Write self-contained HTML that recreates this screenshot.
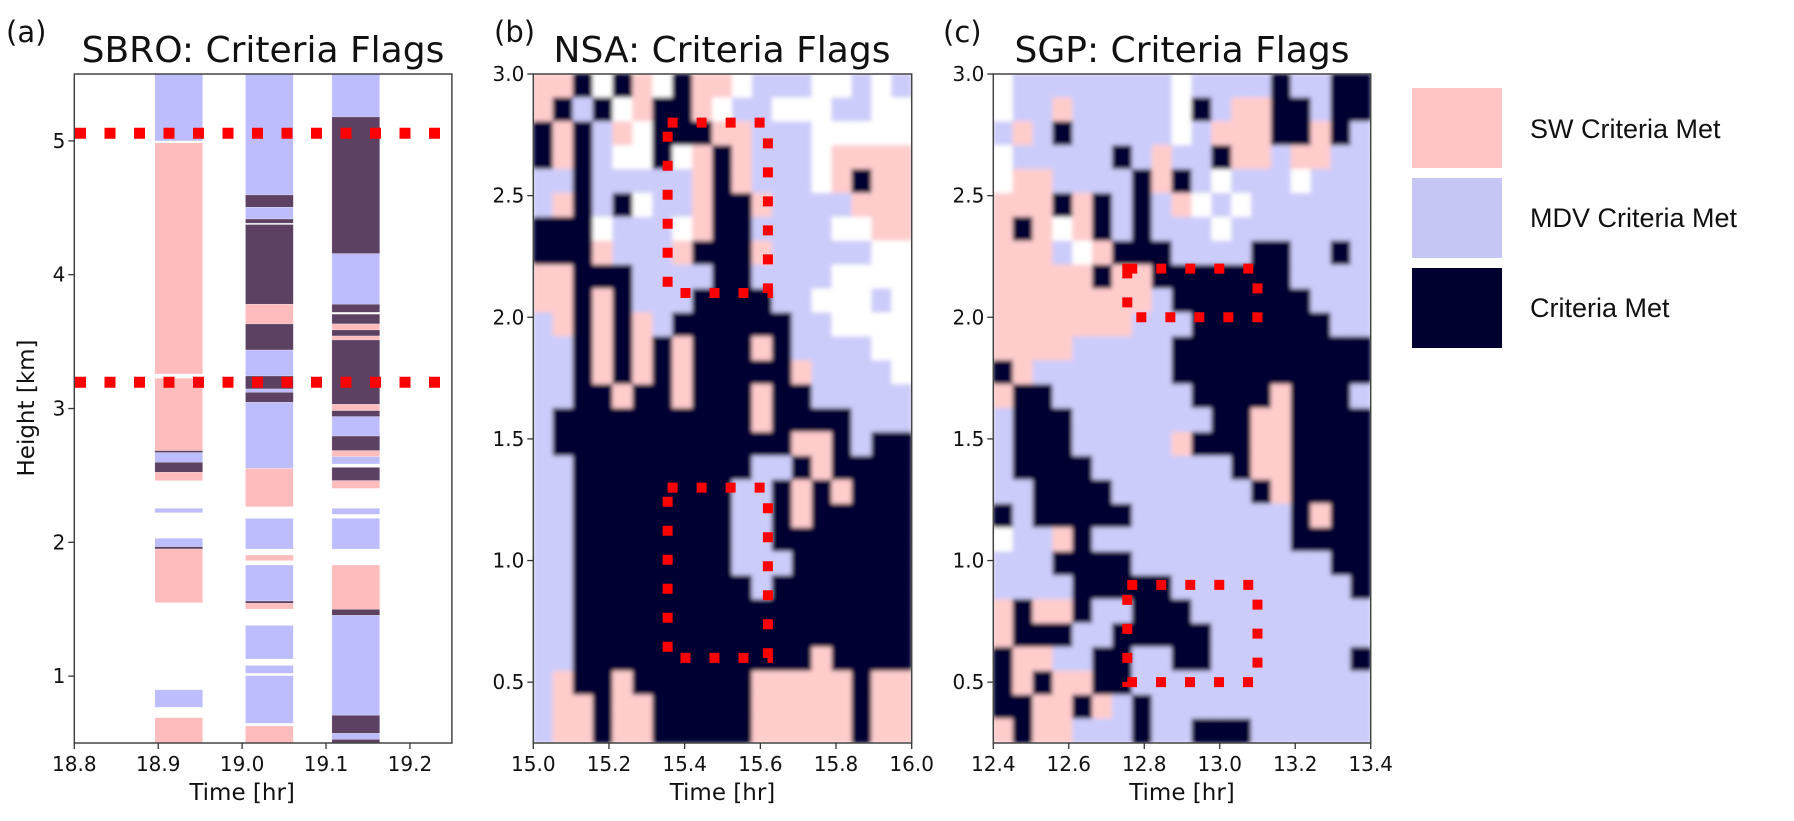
<!DOCTYPE html>
<html><head><meta charset="utf-8">
<style>
html,body{margin:0;padding:0;background:#fff;}
svg{display:block;font-family:"DejaVu Sans","Liberation Sans",sans-serif;}
</style></head>
<body>
<svg id="fig" width="1794" height="821" viewBox="0 0 1794 821" xmlns="http://www.w3.org/2000/svg">
<defs>
<filter id="soft" x="0" y="0" width="1" height="1"><feGaussianBlur stdDeviation="2.2"/></filter>
<clipPath id="clipB"><rect x="533.3" y="74" width="378.4" height="669"/></clipPath>
<clipPath id="clipC"><rect x="993.3" y="74" width="377.4" height="669"/></clipPath>
</defs>
<g id="gA"></g>
<g id="gB"></g>
<g id="gC"></g>
<g id="legend">
<rect x="1412" y="88" width="90" height="80" fill="#ffc4c4"/>
<text x="1530" y="138" font-family="Liberation Sans, sans-serif" font-size="27" fill="#111">SW Criteria Met</text>
<rect x="1412" y="178" width="90" height="80" fill="#c6c6f6"/>
<text x="1530" y="227" font-family="Liberation Sans, sans-serif" font-size="27" fill="#111">MDV Criteria Met</text>
<rect x="1412" y="268" width="90" height="80" fill="#000030"/>
<text x="1530" y="317" font-family="Liberation Sans, sans-serif" font-size="27" fill="#111">Criteria Met</text>
</g>
</svg>
<script>
// ---------- Panel (a) data ----------
const aTicksX = [18.8, 18.9, 19.0, 19.1, 19.2];
const aTickLabelsX = ["18.8", "18.9", "19.0", "19.1", "19.2"];
const aTicksY = [1, 2, 3, 4, 5];
const aColStart = [18.896, 19.004, 19.107];
const aColEnd = [18.953, 19.061, 19.164];
// segments: [column, topKm, bottomKm, category]
const aSegments = [
 [0,5.5,5.0,"L"],[0,4.985,3.258,"P"],[0,3.226,2.685,"P"],[0,2.685,2.67,"N"],[0,2.67,2.598,"L"],[0,2.598,2.523,"N"],[0,2.523,2.461,"P"],
 [0,2.254,2.221,"L"],[0,2.03,1.967,"L"],[0,1.967,1.95,"N"],[0,1.95,1.549,"P"],[0,0.898,0.767,"L"],[0,0.689,0.5,"P"],
 [1,5.5,4.596,"L"],[1,4.596,4.504,"N"],[1,4.504,4.416,"L"],[1,4.416,4.385,"N"],[1,4.375,3.779,"N"],[1,3.779,3.632,"P"],[1,3.632,3.437,"N"],
 [1,3.437,3.243,"L"],[1,3.243,3.146,"N"],[1,3.146,3.121,"L"],[1,3.121,3.046,"N"],[1,3.046,2.552,"L"],[1,2.552,2.266,"P"],[1,2.179,1.95,"L"],
 [1,1.905,1.863,"P"],[1,1.83,1.561,"L"],[1,1.561,1.544,"N"],[1,1.544,1.501,"P"],[1,1.379,1.128,"L"],[1,1.08,1.021,"L"],[1,1.003,0.647,"L"],[1,0.627,0.5,"P"],
 [2,5.5,5.179,"L"],[2,5.179,4.157,"N"],[2,4.157,3.779,"L"],[2,3.779,3.719,"N"],[2,3.705,3.632,"N"],[2,3.632,3.587,"P"],[2,3.587,3.542,"N"],
 [2,3.542,3.512,"P"],[2,3.512,3.031,"N"],[2,3.031,2.984,"P"],[2,2.984,2.939,"N"],[2,2.939,2.794,"L"],[2,2.794,2.685,"N"],[2,2.685,2.64,"P"],
 [2,2.64,2.585,"L"],[2,2.56,2.461,"N"],[2,2.461,2.403,"P"],[2,2.254,2.209,"L"],[2,2.179,1.95,"L"],[2,1.83,1.499,"P"],[2,1.499,1.454,"N"],
 [2,1.454,0.707,"L"],[2,0.707,0.572,"N"],[2,0.572,0.527,"L"],[2,0.527,0.5,"N"]
];
const aRedLines = [5.057, 3.196];

// ---------- Panel (b) data ----------
const bTicksX = [15.0, 15.2, 15.4, 15.6, 15.8, 16.0];
const bTickLabelsX = ["15.0", "15.2", "15.4", "15.6", "15.8", "16.0"];
const bcTicksY = [0.5, 1.0, 1.5, 2.0, 2.5, 3.0];
const bcTickLabelsY = ["0.5", "1.0", "1.5", "2.0", "2.5", "3.0"];
const bGrid = [
"PPNWNPWNPPWLLLWWLWL",
"PNLNWPNNPWLLWWWLLWW",
"NPNLPWNNNPPLLLWWWWW",
"NPNLWWNWPNPLLLWPPPP",
"LLNLLLLLPNPLLLWPNPP",
"LPNLNWLLPNNPLLLLPPP",
"NNNWLLLWPNNLLLLWWPP",
"NNNPLLLPNNNPLLLLLWW",
"PPNNNLLLLNNLLLLWWWW",
"PPNPNLLLNNNNLLWWWLW",
"LPNPNPLNNNNNNLLWWWW",
"LLNPNPNPNNNPNLLLLWW",
"LLNPNPNPNNNNNPLLLLW",
"LLNNPNNPNNNPNNLLLLL",
"LNNNNNNNNNNPNNNNLLL",
"LNNNNNNNNNNNNPPNLNN",
"LLNNNNNNNNNLLNPNNNN",
"LLNNNNNNNNLLNPNPNNN",
"LLNNNNNNNNLLNPNNNNN",
"LLNNNNNNNNLLNNNNNNN",
"LLNNNNNNNNLLLNNNNNN",
"LLNNNNNNNNNLNNNNNNN",
"LLNNNNNNNNNNNNNNNNN",
"LLNNNNNNNNNNNNNNNNN",
"LLNNNNNNNNNNNNPNNNN",
"LPNNPNNNNNNPPPPPNPP",
"LPPNPPNNNNNPPPPPNPP",
"LPPNPPNNNNNPPPPPNPP"
];
const bBoxes = [[15.355, 15.62, 2.8, 2.1], [15.355, 15.62, 1.3, 0.6]];

// ---------- Panel (c) data ----------
const cTicksX = [12.4, 12.6, 12.8, 13.0, 13.2, 13.4];
const cTickLabelsX = ["12.4", "12.6", "12.8", "13.0", "13.2", "13.4"];
const cGrid = [
"WLLLLLLLLWLLLLNLLNN",
"WLLPLLLLLWNLPPNNLNN",
"LPLNLLLLLWLPPPNNPNL",
"WLLLLLNLPLLNPPLPPLL",
"WPPLLLLNPNLWLLLWLLL",
"PPPNPNLNLPWLWLLLLLL",
"PNPWPNLNLLLWLLLLLLL",
"PPPLWPNNNLLLLNNLLNL",
"PPPPPNPPNNNNNNNLLLL",
"PPPPPPPPLNNNNNNNLLL",
"PPPPPPPLLLNNNNNNNLL",
"PPPPLLLLLNNNNNNNNNN",
"NPLLLLLLLNNNNNNNNNN",
"PNNLLLLLLLNNNNPNNNL",
"LNNNLLLLLLLNNPPNNNN",
"LNNNLLLLLPNNNPPNNNN",
"LNNNNLLLLLLLNPPNNNN",
"LLNNNNLLLLLLLNPNNNN",
"NLNNNNNLLLLLLLLNPNN",
"WLLPNLLLLLLLLLLNNNN",
"LLLNNNNLLLLLLLLLLNN",
"LLLLNNNNNLLLLLLLLLN",
"PNPPNLLNNNLLLLLLLLL",
"PNNNLLNNNNNLLLLLLLL",
"NPPLLNNLLNNLLLLLLLN",
"NPNPPNNLLLLLLLLLLLL",
"NNPPNPLNLLLLLLLLLLL",
"PNPPLLLNLLNNNLLLLLL"
];
const cBoxes = [[12.755, 13.1, 2.2, 2.0], [12.755, 13.1, 0.9, 0.5]];

// ---------- helpers ----------
const NS = "http://www.w3.org/2000/svg";
function mk(tag, attrs, parent){ const e=document.createElementNS(NS,tag); for(const k in attrs) e.setAttribute(k,attrs[k]); if(parent) parent.appendChild(e); return e; }
const colA = {P:"#ffbcbc", L:"#bdbdfd", N:"#5c4163", W:"#ffffff"};
const colBC = {P:"#ffcccc", L:"#ccccfa", N:"#000030", W:"#ffffff"};
const TOP=74, BOT=743;

function axisScaleX(t0,t1,px0,px1){ return t=>px0+(t-t0)*(px1-px0)/(t1-t0); }
function axisScaleY(k0,k1){ return k=>BOT-(k-k0)*(BOT-TOP)/(k1-k0); }

function drawFrame(g, x0, x1, name){
  const r = mk("rect",{x:x0,y:TOP,width:x1-x0,height:BOT-TOP,fill:"none",stroke:"#444","stroke-width":1.5},g);
  
  
}
function drawXTicks(g, ticks, labels, sx, name){
  ticks.forEach((t,i)=>{
    const x=sx(t);
    const l=mk("line",{x1:x,x2:x,y1:BOT,y2:BOT+6,stroke:"#333","stroke-width":1.3},g);
    
    
    const tx=mk("text",{x:x,y:BOT+28,"text-anchor":"middle","font-size":20,fill:"#111"},g);
    tx.textContent=labels[i];
    
    
  });
  const xt=mk("text",{x:(sx(ticks[0])+sx(ticks[ticks.length-1]))/2,y:BOT+57,"text-anchor":"middle","font-size":23,fill:"#111"},g);
  xt.textContent="Time [hr]";
  
  
}
function drawYTicks(g, ticks, labels, sy, x0, name){
  ticks.forEach((k,i)=>{
    const y=sy(k);
    const l=mk("line",{x1:x0-6,x2:x0,y1:y,y2:y,stroke:"#333","stroke-width":1.3},g);
    
    
    const tx=mk("text",{x:x0-9,y:y+7,"text-anchor":"end","font-size":20,fill:"#111"},g);
    tx.textContent=labels[i];
    
    
  });
}
function drawTitle(g, cx, letter, title, name){
  const t=mk("text",{x:cx,y:62,"text-anchor":"middle","font-size":36,fill:"#111"},g);
  t.textContent=title;
  
  
  return t;
}
function drawLetter(g, x, letter, name){
  const t=mk("text",{x:x,y:42,"font-size":29,fill:"#111"},g);
  t.textContent=letter;
  
  
}
function drawGrid(g, grid, sx, sy, t0, t1, k0, k1, clip, name){
  const hg = mk("g",{"clip-path":"url(#"+clip+")"},g);
  const inner = mk("g",{filter:"url(#soft)"},hg);
  const nr=grid.length;
  grid.forEach((row,i)=>{
    const nc=row.length;
    for(let j=0;j<nc;j++){
      const ta=t0+(t1-t0)*j/nc, tb=t0+(t1-t0)*(j+1)/nc;
      const ka=k1-(k1-k0)*i/nr, kb=k1-(k1-k0)*(i+1)/nr;
      const x=sx(ta), y=sy(ka);
      const c=mk("rect",{x:x-0.5,y:y-0.5,width:sx(tb)-x+1,height:sy(kb)-y+1,fill:colBC[row[j]]},inner);
      
      
    }
  });
}
function drawBoxes(g, boxes, sx, sy, name){
  boxes.forEach(b=>{
    const x0=sx(b[0]), x1=sx(b[1]), y0=sy(b[2]), y1=sy(b[3]);
    const p=mk("path",{d:`M${x0},${y0} H${x1} V${y1} H${x0} Z`,fill:"none",stroke:"#ff0000","stroke-width":10,"stroke-dasharray":"10 19"},g);
    
    
  });
}

// ---------- Panel (a) ----------
const gA=document.getElementById("gA");
const sxA=axisScaleX(18.8,19.25,74.3,451.9), syA=axisScaleY(0.5,5.5);
aSegments.forEach(s=>{
  const x=sxA(aColStart[s[0]]), w=sxA(aColEnd[s[0]])-x, y=syA(s[1]), h=syA(s[2])-y;
  const r=mk("rect",{x:x,y:y,width:w,height:Math.max(h,1),fill:colA[s[3]],stroke:"#ffffff","stroke-opacity":0.35,"stroke-width":0.6},gA);
  
  
});
aRedLines.forEach(k=>{
  const y=syA(k);
  const l=mk("line",{x1:75,x2:452,y1:y,y2:y,stroke:"#ff0000","stroke-width":11,"stroke-dasharray":"11 18.5"},gA);
  
  
});
drawFrame(gA,74.3,451.9,"sbro");
drawXTicks(gA,aTicksX,aTickLabelsX,sxA,"sbro");
drawYTicks(gA,aTicksY,aTicksY.map(String),syA,74.3,"sbro");
drawTitle(gA,263,"(a)","SBRO: Criteria Flags","sbro");
drawLetter(gA,6,"(a)","sbro");
const yl=mk("text",{x:0,y:0,"text-anchor":"middle","font-size":23,fill:"#111",transform:"translate(34,408) rotate(-90)"},gA);
yl.textContent="Height [km]";



// ---------- Panel (b) ----------
const gB=document.getElementById("gB");
const sxB=axisScaleX(15,16,533.3,911.7), syB=axisScaleY(0.25,3.0);
drawGrid(gB,bGrid,sxB,syB,15,16,0.25,3.0,"clipB","nsa");
drawBoxes(gB,bBoxes,sxB,syB,"nsa");
drawFrame(gB,533.3,911.7,"nsa");
drawXTicks(gB,bTicksX,bTickLabelsX,sxB,"nsa");
drawYTicks(gB,bcTicksY,bcTickLabelsY,syB,533.3,"nsa");
drawTitle(gB,722,"(b)","NSA: Criteria Flags","nsa");
drawLetter(gB,494,"(b)","nsa");

// ---------- Panel (c) ----------
const gC=document.getElementById("gC");
const sxC=axisScaleX(12.4,13.4,993.3,1370.7), syC=axisScaleY(0.25,3.0);
drawGrid(gC,cGrid,sxC,syC,12.4,13.4,0.25,3.0,"clipC","sgp");
drawBoxes(gC,cBoxes,sxC,syC,"sgp");
drawFrame(gC,993.3,1370.7,"sgp");
drawXTicks(gC,cTicksX,cTickLabelsX,sxC,"sgp");
drawYTicks(gC,bcTicksY,bcTickLabelsY,syC,993.3,"sgp");
drawTitle(gC,1182,"(c)","SGP: Criteria Flags","sgp");
drawLetter(gC,943,"(c)","sgp");
</script>
</body></html>
